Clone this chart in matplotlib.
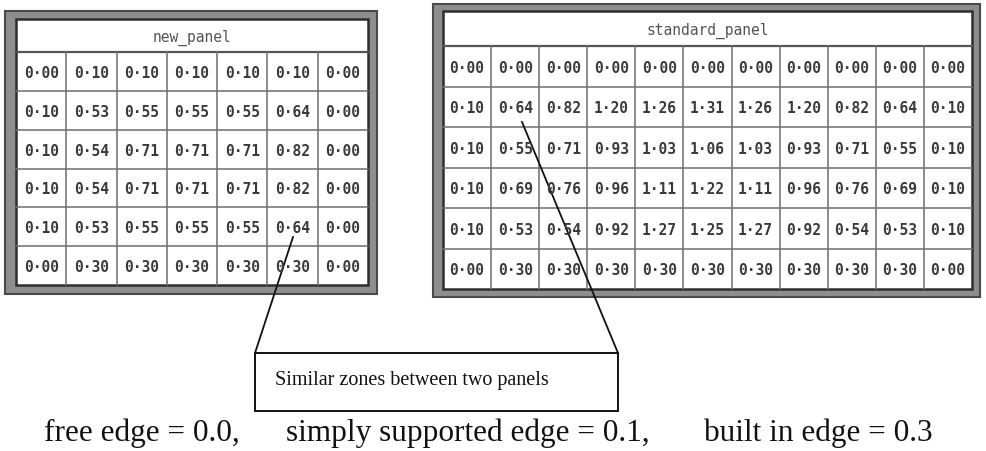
import matplotlib
matplotlib.use("Agg")
import matplotlib.pyplot as plt
from matplotlib.patches import Rectangle

# ---------------- data ----------------
new_panel_title = "new_panel"
new_panel_values = [
    [0.00, 0.10, 0.10, 0.10, 0.10, 0.10, 0.00],
    [0.10, 0.53, 0.55, 0.55, 0.55, 0.64, 0.00],
    [0.10, 0.54, 0.71, 0.71, 0.71, 0.82, 0.00],
    [0.10, 0.54, 0.71, 0.71, 0.71, 0.82, 0.00],
    [0.10, 0.53, 0.55, 0.55, 0.55, 0.64, 0.00],
    [0.00, 0.30, 0.30, 0.30, 0.30, 0.30, 0.00],
]

standard_panel_title = "standard_panel"
standard_panel_values = [
    [0.00, 0.00, 0.00, 0.00, 0.00, 0.00, 0.00, 0.00, 0.00, 0.00, 0.00],
    [0.10, 0.64, 0.82, 1.20, 1.26, 1.31, 1.26, 1.20, 0.82, 0.64, 0.10],
    [0.10, 0.55, 0.71, 0.93, 1.03, 1.06, 1.03, 0.93, 0.71, 0.55, 0.10],
    [0.10, 0.69, 0.76, 0.96, 1.11, 1.22, 1.11, 0.96, 0.76, 0.69, 0.10],
    [0.10, 0.53, 0.54, 0.92, 1.27, 1.25, 1.27, 0.92, 0.54, 0.53, 0.10],
    [0.00, 0.30, 0.30, 0.30, 0.30, 0.30, 0.30, 0.30, 0.30, 0.30, 0.00],
]

note_text = "Similar zones between two panels"
legend_parts = ["free edge = 0.0,", "simply supported edge = 0.1,", "built in edge = 0.3"]

# ---------------- figure (pixel coords, y down) ----------------
fig = plt.figure(figsize=(9.86, 4.52), dpi=100)
ax = fig.add_axes([0, 0, 1, 1])
ax.set_xlim(0, 986)
ax.set_ylim(452, 0)
ax.axis("off")

cell_font = dict(family="DejaVu Sans Mono", fontsize=10.5, fontweight="bold", color="#3a3a3a")


def draw_panel(outer, inner, title_bottom, title, values):
    # outer gray frame
    ox0, oy0, ox1, oy1 = outer
    ax.add_patch(Rectangle((ox0, oy0), ox1 - ox0, oy1 - oy0,
                           facecolor="#8e8e8e", edgecolor="#4a4a4a", lw=1.5))
    ix0, iy0, ix1, iy1 = inner
    ax.add_patch(Rectangle((ix0, iy0), ix1 - ix0, iy1 - iy0,
                           facecolor="white", edgecolor="#2e2e2e", lw=1.8))
    # title strip
    ax.plot([ix0, ix1], [title_bottom, title_bottom], color="#555555", lw=1.6)
    ax.text((ix0 + ix1) / 2, (iy0 + title_bottom) / 2 + 1, title,
            ha="center", va="center", family="DejaVu Sans Mono",
            fontsize=10.5, color="#555555")

    nrows, ncols = len(values), len(values[0])
    cw = (ix1 - ix0) / ncols
    rh = (iy1 - title_bottom) / nrows
    for r in range(1, nrows):
        y = title_bottom + r * rh
        ax.plot([ix0, ix1], [y, y], color="#6e6e6e", lw=1.1)
    for c in range(1, ncols):
        x = ix0 + c * cw
        ax.plot([x, x], [title_bottom, iy1], color="#6e6e6e", lw=1.1)
    for r, row in enumerate(values):
        for c, v in enumerate(row):
            ax.text(ix0 + (c + 0.5) * cw, title_bottom + (r + 0.5) * rh + 1,
                    f"{v:.2f}".replace(".", "\u00b7"),
                    ha="center", va="center", **cell_font)


draw_panel((5, 12, 377, 295), (16, 20, 368, 286), 53,
           new_panel_title, new_panel_values)
draw_panel((433, 5, 980, 298), (443, 12, 972, 290), 47,
           standard_panel_title, standard_panel_values)

# annotation box with connector lines
ax.add_patch(Rectangle((255, 354), 618 - 255, 412 - 354,
                       facecolor="white", edgecolor="#111111", lw=1.4))
ax.plot([293, 255], [238, 354], color="#111111", lw=1.3)
ax.plot([522, 618], [123, 354], color="#111111", lw=1.3)
ax.text(275, 381, note_text, ha="left", va="center",
        family="Liberation Serif", fontsize=14.5, color="#111111")

# edge legend along the bottom
for x, s in zip([44, 286, 704], legend_parts):
    ax.text(x, 441, s, ha="left", va="baseline",
            family="Liberation Serif", fontsize=22.5, color="#111111")

fig.savefig("out.png", dpi=100, facecolor="white")
